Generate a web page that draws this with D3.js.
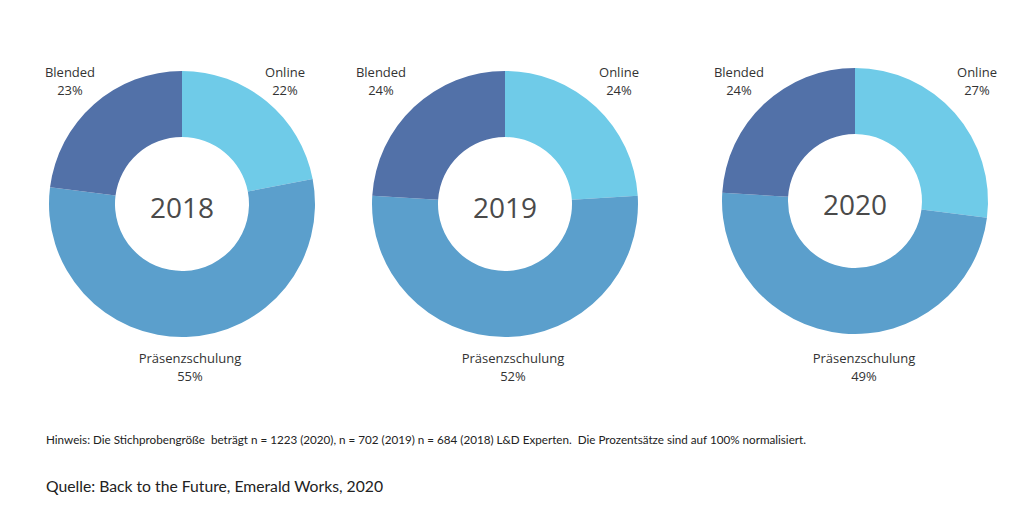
<!DOCTYPE html>
<html><head><meta charset="utf-8">
<script src="https://cdn.jsdelivr.net/npm/d3@7"></script>
<style>html,body{margin:0;padding:0;background:#fff;}svg{display:block;}</style>
</head><body>
<svg id="c" width="1024" height="519"></svg>
<script>
const categories = ["Online", "Präsenzschulung", "Blended"];
const years = ["2018", "2019", "2020"];
const values2018 = [22, 55, 23];
const values2019 = [24, 52, 24];
const values2020 = [27, 49, 24];
const seriesValues = [values2018, values2019, values2020];
const colors = ["#6fcbe8", "#5b9fcc", "#5271a8"];
const noteText = "Hinweis: Die Stichprobengröße  beträgt n = 1223 (2020), n = 702 (2019) n = 684 (2018) L&D Experten.  Die Prozentsätze sind auf 100% normalisiert.";
const sourceText = "Quelle: Back to the Future, Emerald Works, 2020";

const svg = d3.select("#c");
const centersX = d3.scalePoint().domain(years).range([182, 855]);
const centers = {"2018": [182, 204], "2019": [505, 204], "2020": [855, 201]};
const color = d3.scaleOrdinal().domain(categories).range(colors);
const outerR = 133, innerR = 67;
const pie = d3.pie().sort(null).value(d => d.value);
const arc = d3.arc().innerRadius(innerR).outerRadius(outerR);
const font = "'Open Sans', 'Segoe UI', sans-serif";
const labelDx = {"2018": {Online: 103, Blended: -112, "Präsenzschulung": 8},
                 "2019": {Online: 114, Blended: -124, "Präsenzschulung": 8},
                 "2020": {Online: 122, Blended: -116, "Präsenzschulung": 9}};

years.forEach((yr, i) => {
  const [cx, cy] = centers[yr];
  const data = categories.map((c, j) => ({cat: c, value: seriesValues[i][j]}));
  const g = svg.append("g").attr("transform", `translate(${cx},${cy})`);
  g.selectAll("path").data(pie(data)).join("path")
    .attr("d", arc).attr("fill", d => color(d.data.cat));
  g.append("text").attr("x", 0).attr("y", 14).attr("text-anchor", "middle")
    .attr("font-family", font).attr("font-size", 28).attr("fill", "#4a4a4a").text(yr);
  data.forEach(d => {
    const dx = labelDx[yr][d.cat];
    const isBottom = d.cat === "Präsenzschulung";
    const y1 = isBottom ? 363 : 77;
    const t = svg.append("text").attr("text-anchor", "middle")
      .attr("font-family", font).attr("font-size", 13).attr("fill", "#333");
    t.append("tspan").attr("x", cx + dx).attr("y", y1).text(d.cat);
    t.append("tspan").attr("x", cx + dx).attr("y", y1 + 18).text(d.value + "%");
  });
});

svg.append("text").attr("x", 46).attr("y", 444)
  .attr("font-family", "Lato, Calibri, sans-serif").attr("font-size", 10.5).attr("fill", "#222")
  .attr("textLength", 760).attr("lengthAdjust", "spacingAndGlyphs")
  .style("white-space", "pre").text(noteText);
svg.append("text").attr("x", 46).attr("y", 492)
  .attr("font-family", "Lato, Calibri, sans-serif").attr("font-size", 15.5).attr("fill", "#222")
  .attr("textLength", 337).attr("lengthAdjust", "spacingAndGlyphs")
  .text(sourceText);
</script>
</body></html>
